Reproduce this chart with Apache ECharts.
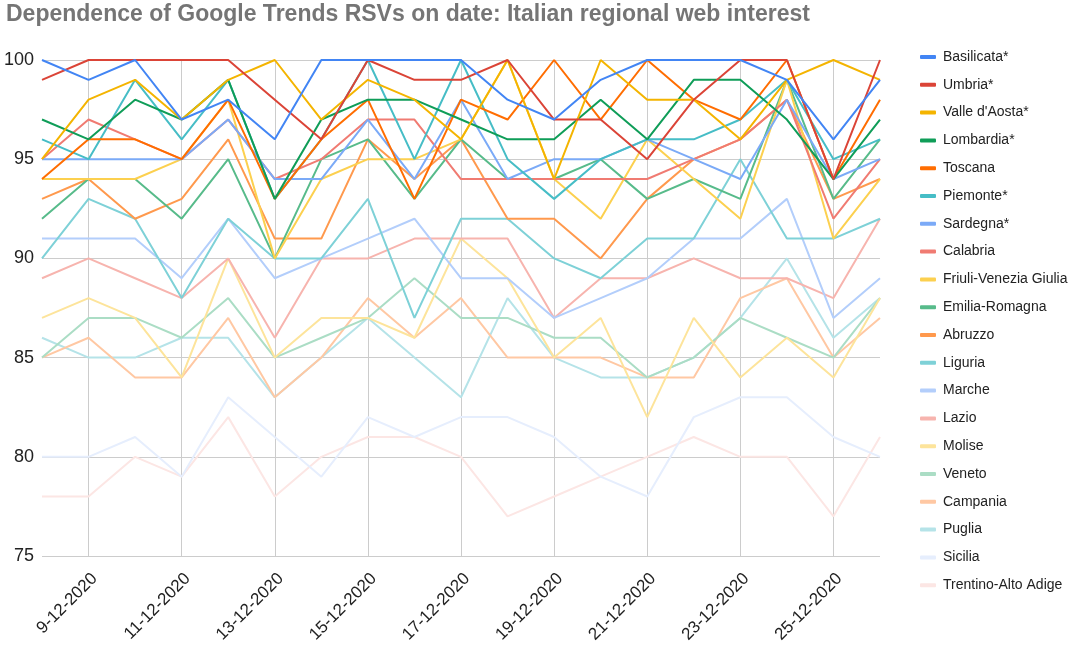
<!DOCTYPE html>
<html lang="en">
<head>
<meta charset="UTF-8">
<title>Google Trends RSVs - Italian regions</title>
<style>
  html, body { margin: 0; padding: 0; background: #fff; }
  #chart { width: 1072px; height: 648px; }
</style>
</head>
<body>
<div id="chart"></div>
<script src="https://cdn.jsdelivr.net/npm/echarts@6/dist/echarts.min.js"></script>
<script>
var dates = ['8-12-2020', '9-12-2020', '10-12-2020', '11-12-2020', '12-12-2020', '13-12-2020',
  '14-12-2020', '15-12-2020', '16-12-2020', '17-12-2020', '18-12-2020', '19-12-2020',
  '20-12-2020', '21-12-2020', '22-12-2020', '23-12-2020', '24-12-2020', '25-12-2020', '26-12-2020'];

var basilicata = [100, 99, 100, 97, 98, 96, 100, 100, 100, 100, 98, 97, 99, 100, 100, 100, 99, 96, 99];
var umbria     = [99, 100, 100, 100, 100, 98, 96, 100, 99, 99, 100, 97, 97, 95, 98, 100, 100, 94, 100];
var valle      = [95, 98, 99, 97, 99, 100, 97, 99, 98, 96, 100, 94, 100, 98, 98, 96, 99, 100, 99];
var lombardia  = [97, 96, 98, 97, 99, 93, 97, 98, 98, 97, 96, 96, 98, 96, 99, 99, 97, 94, 97];
var toscana    = [94, 96, 96, 95, 98, 93, 96, 98, 93, 98, 97, 100, 97, 100, 98, 97, 100, 94, 98];
var piemonte   = [96, 95, 99, 96, 99, 93, 96, 100, 95, 100, 95, 93, 95, 96, 96, 97, 99, 95, 96];
var sardegna   = [95, 95, 95, 95, 97, 94, 94, 97, 94, 98, 94, 95, 95, 96, 95, 94, 98, 94, 95];
var calabria   = [95, 97, 96, 95, 97, 94, 95, 97, 97, 94, 94, 94, 94, 94, 95, 96, 98, 92, 95];
var friuli     = [94, 94, 94, 95, 98, 90, 94, 95, 95, 96, 100, 94, 92, 96, 94, 92, 99, 91, 94];
var emilia     = [92, 94, 94, 92, 95, 90, 95, 96, 93, 96, 94, 94, 95, 93, 94, 93, 99, 93, 96];
var abruzzo    = [93, 94, 92, 93, 96, 91, 91, 96, 94, 96, 92, 92, 90, 93, 95, 96, 98, 93, 94];
var liguria    = [90, 93, 92, 88, 92, 90, 90, 93, 87, 92, 92, 90, 89, 91, 91, 95, 91, 91, 92];
var marche     = [91, 91, 91, 89, 92, 89, 90, 91, 92, 89, 89, 87, 88, 89, 91, 91, 93, 87, 89];
var lazio      = [89, 90, 89, 88, 90, 86, 90, 90, 91, 91, 91, 87, 89, 89, 90, 89, 89, 88, 92];
var molise     = [87, 88, 87, 84, 90, 85, 87, 87, 86, 91, 89, 85, 87, 82, 87, 84, 86, 84, 88];
var veneto     = [85, 87, 87, 86, 88, 85, 86, 87, 89, 87, 87, 86, 86, 84, 85, 87, 86, 85, 88];
var campania   = [85, 86, 84, 84, 87, 83, 85, 88, 86, 88, 85, 85, 85, 84, 84, 88, 89, 85, 87];
var puglia     = [86, 85, 85, 86, 86, 83, 85, 87, 85, 83, 88, 85, 84, 84, 85, 87, 90, 86, 88];
var sicilia    = [80, 80, 81, 79, 83, 81, 79, 82, 81, 82, 82, 81, 79, 78, 82, 83, 83, 81, 80];
var trentino   = [78, 78, 80, 79, 82, 78, 80, 81, 81, 80, 77, 78, 79, 80, 81, 80, 80, 77, 81];

var regions = ['Basilicata*', 'Umbria*', "Valle d'Aosta*", 'Lombardia*', 'Toscana', 'Piemonte*',
  'Sardegna*', 'Calabria', 'Friuli-Venezia Giulia', 'Emilia-Romagna', 'Abruzzo', 'Liguria',
  'Marche', 'Lazio', 'Molise', 'Veneto', 'Campania', 'Puglia', 'Sicilia', 'Trentino-Alto Adige'];
var values = [basilicata, umbria, valle, lombardia, toscana, piemonte, sardegna, calabria,
  friuli, emilia, abruzzo, liguria, marche, lazio, molise, veneto, campania, puglia, sicilia, trentino];
var colors = ['#4285F4', '#DB4437', '#F4B400', '#0F9D58', '#FF6D01', '#46BDC6', '#7BAAF7',
  '#F07B72', '#FCD04F', '#57BB8A', '#FF994D', '#7ED1D7', '#B3CEFB', '#F7B4AE', '#FDE49B',
  '#ABDDC5', '#FFC8A3', '#B5E3E8', '#E6EEFD', '#FCE6E4'];

var yTicks = [75, 80, 85, 90, 95, 100];

var chart = echarts.init(document.getElementById('chart'));

var series = [];
for (var i = 0; i < regions.length; i++) {
  series.push({
    name: regions[i],
    type: 'line',
    data: values[i],
    symbol: 'none',
    z: 2 + (regions.length - i) / 100,
    lineStyle: { width: 2, color: colors[i] },
    itemStyle: { color: colors[i] }
  });
}

var option = {
  animation: false,
  title: {
    text: 'Dependence of Google Trends RSVs on date: Italian regional web interest',
    left: 1,
    top: -2,
    textStyle: {
      fontFamily: 'Liberation Sans',
      fontSize: 23,
      fontWeight: 'bold',
      color: '#757575'
    }
  },
  legend: {
    orient: 'vertical',
    left: 915,
    top: 44,
    icon: 'roundRect',
    itemWidth: 16,
    itemHeight: 4,
    itemGap: 11.8,
    data: regions,
    textStyle: {
      fontFamily: 'Liberation Sans',
      fontSize: 14,
      color: '#222',
      lineHeight: 16,
      padding: [0, 0, 0, 2]
    }
  },
  grid: { left: 42, right: 192, top: 60, bottom: 92, containLabel: false },
  xAxis: {
    type: 'category',
    boundaryGap: false,
    data: dates,
    axisLine: { show: false },
    axisTick: { show: false },
    axisLabel: {
      interval: function (index) { return index % 2 === 1; },
      rotate: 45,
      margin: 14,
      verticalAlign: 'top',
      fontFamily: 'Liberation Sans',
      fontSize: 17,
      color: '#222'
    },
    splitLine: {
      show: true,
      interval: function (index) { return index % 2 === 1; },
      lineStyle: { color: '#cccccc', width: 1 }
    }
  },
  yAxis: {
    type: 'value',
    min: yTicks[0],
    max: yTicks[yTicks.length - 1],
    interval: 5,
    axisLine: { show: false },
    axisTick: { show: false },
    axisLabel: {
      margin: 8,
      fontFamily: 'Liberation Sans',
      fontSize: 18,
      color: '#222'
    },
    splitLine: { lineStyle: { color: '#cccccc', width: 1 } }
  },
  series: series
};

chart.setOption(option);
</script>
</body>
</html>
